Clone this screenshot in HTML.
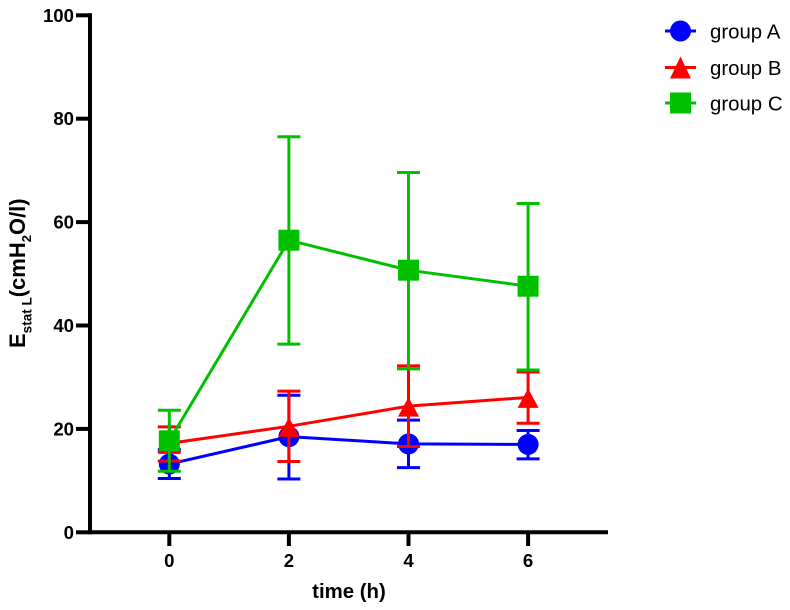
<!DOCTYPE html>
<html>
<head>
<meta charset="utf-8">
<style>
html,body{margin:0;padding:0;background:#fff;}
svg{display:block;font-family:"Liberation Sans",sans-serif;}
</style>
</head>
<body>
<svg id="chart" xmlns="http://www.w3.org/2000/svg" width="790" height="610" viewBox="0 0 790 610">
  <text transform="translate(25,348) rotate(-90)" font-size="22" font-weight="bold" fill="#000">E<tspan font-size="13.5" dy="6.5">stat L</tspan><tspan dy="-6.5">(cmH</tspan><tspan font-size="13" dy="6">2</tspan><tspan dy="-6">O/l)</tspan></text>
  <text x="349" y="598" text-anchor="middle" font-size="20.4" font-weight="bold" fill="#000">time (h)</text>
  <g id="axes"></g>
  <g id="series"></g>
  <g id="legend"></g>
</svg>
<script>
var xCategories = [0, 2, 4, 6];
var xTickLabels = ["0", "2", "4", "6"];
var yTickValues = [0, 20, 40, 60, 80, 100];

var groupAMean = [13.2, 18.5, 17.1, 17.0];
var groupAHigh = [16.0, 26.5, 21.7, 19.7];
var groupALow = [10.4, 10.3, 12.5, 14.2];

var groupBMean = [17.2, 20.5, 24.4, 26.1];
var groupBHigh = [20.4, 27.3, 32.2, 31.0];
var groupBLow = [13.8, 13.7, 16.6, 21.1];
var groupBInnerCap = [15.5];

var groupCMean = [17.7, 56.5, 50.7, 47.6];
var groupCHigh = [23.6, 76.5, 69.6, 63.6];
var groupCLow = [11.8, 36.4, 31.6, 31.4];

var NS = "http://www.w3.org/2000/svg";
function xPos(v) { return 169.3 + (v / 2) * 119.6; }
function yPos(v) { return 532.3 - v * 5.17; }

function make(parent, tag, attrs) {
  var el = document.createElementNS(NS, tag);
  for (var k in attrs) { el.setAttribute(k, attrs[k]); }
  parent.appendChild(el);
  return el;
}

var axes = document.getElementById("axes");
var seriesRoot = document.getElementById("series");
var legendRoot = document.getElementById("legend");

var yAxisLine = make(axes, "line", {x1: 90, x2: 90, y1: yPos(100) - 2, y2: yPos(0) + 2, stroke: "#000", "stroke-width": 4});


var xAxisLine = make(axes, "line", {x1: 88, x2: 608, y1: yPos(0), y2: yPos(0), stroke: "#000", "stroke-width": 4});



yTickValues.forEach(function (v) {
  var tick = make(axes, "line", {x1: 76, x2: 90, y1: yPos(v), y2: yPos(v), stroke: "#000", "stroke-width": 4});
  
  
  var label = make(axes, "text", {x: 74, y: yPos(v) + 6.5, "text-anchor": "end", "font-size": 18.6, "font-weight": "bold", fill: "#000"});
  label.textContent = String(v);
  
  
});

xCategories.forEach(function (c, i) {
  var tick = make(axes, "line", {x1: xPos(c), x2: xPos(c), y1: yPos(0), y2: 546, stroke: "#000", "stroke-width": 4});
  
  
  var label = make(axes, "text", {x: xPos(c), y: 567, "text-anchor": "middle", "font-size": 18.6, "font-weight": "bold", fill: "#000"});
  label.textContent = xTickLabels[i];
  
  
});

function drawMarker(parent, shape, x, y, color, triUp, triDown) {
  if (shape === "circle") {
    return make(parent, "circle", {cx: x, cy: y, r: 10.5, fill: color});
  }
  if (shape === "triangle") {
    return make(parent, "polygon", {points: (x - 10.5) + "," + (y + triDown) + " " + (x + 10.5) + "," + (y + triDown) + " " + x + "," + (y - triUp), fill: color});
  }
  return make(parent, "rect", {x: x - 10.5, y: y - 10.5, width: 21, height: 21, fill: color});
}

function drawSeries(key, shape, color, mean, high, low) {
  var g = make(seriesRoot, "g", {});
  
  
  var pts = xCategories.map(function (c, i) { return xPos(c) + "," + yPos(mean[i]); }).join(" ");
  var line = make(g, "polyline", {points: pts, fill: "none", stroke: color, "stroke-width": 3});
  
  
  xCategories.forEach(function (c, i) {
    var x = xPos(c);
    var stem = make(g, "line", {x1: x, x2: x, y1: yPos(high[i]), y2: yPos(low[i]), stroke: color, "stroke-width": 3});
    
    
    var capTop = make(g, "line", {x1: x - 11.5, x2: x + 11.5, y1: yPos(high[i]), y2: yPos(high[i]), stroke: color, "stroke-width": 3});
    
    
    var capLow = make(g, "line", {x1: x - 11.5, x2: x + 11.5, y1: yPos(low[i]), y2: yPos(low[i]), stroke: color, "stroke-width": 3});
    
    
    var marker = drawMarker(g, shape, x, yPos(mean[i]), color, 9, 10.5);
    
    
  });
  return g;
}

drawSeries("group-a", "circle", "#0000ff", groupAMean, groupAHigh, groupALow);
var groupBLayer = drawSeries("group-b", "triangle", "#ff0000", groupBMean, groupBHigh, groupBLow);
groupBInnerCap.forEach(function (v, i) {
  var cap = make(groupBLayer, "line", {x1: xPos(xCategories[i]) - 11.5, x2: xPos(xCategories[i]) + 11.5, y1: yPos(v), y2: yPos(v), stroke: "#ff0000", "stroke-width": 3});
  
  
});
drawSeries("group-c", "square", "#00c000", groupCMean, groupCHigh, groupCLow);

function drawLegend(key, label, shape, color, y) {
  var g = make(legendRoot, "g", {});
  
  
  make(g, "line", {x1: 665, x2: 696, y1: y, y2: y, stroke: color, "stroke-width": 3});
  drawMarker(g, shape, 680.5, y, color, 11, 11);
  var t = make(g, "text", {x: 710, y: y + 7.5, "font-size": 20.4, fill: "#000"});
  t.textContent = label;
  
  
}
drawLegend("group-a", "group A", "circle", "#0000ff", 31);
drawLegend("group-b", "group B", "triangle", "#ff0000", 67.5);
drawLegend("group-c", "group C", "square", "#00c000", 103);
</script>
</body>
</html>
